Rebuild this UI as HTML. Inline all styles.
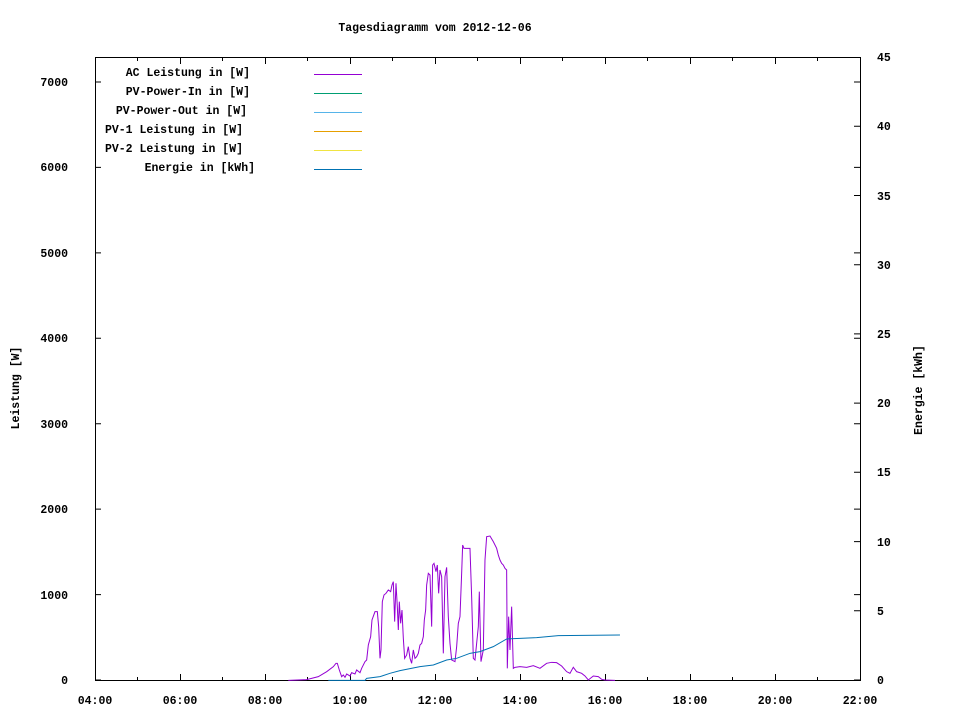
<!DOCTYPE html>
<html><head><meta charset="utf-8"><style>
html,body{margin:0;padding:0;background:#fff;}
svg text{font-family:"Liberation Mono","DejaVu Sans Mono",monospace;font-size:11.5px;font-weight:bold;fill:#000;}
</style></head><body>
<svg width="960" height="720" xmlns="http://www.w3.org/2000/svg">
<rect width="960" height="720" fill="#fff"/>
<text x="435" y="31" text-anchor="middle">Tagesdiagramm vom 2012-12-06</text>
<g stroke="#000" stroke-width="1" fill="none">
<rect x="95.5" y="57.5" width="765" height="623"/>
<path d="M95 680h6M95 594.6h6M95 509.1h6M95 423.7h6M95 338.3h6M95 252.9h6M95 167.4h6M95 82h6
M860 680h-6M860 594.6h-6M860 509.1h-6M860 423.7h-6M860 338.3h-6M860 252.9h-6M860 167.4h-6M860 82h-6
M860 610.8h-6M860 541.6h-6M860 472.3h-6M860 403.1h-6M860 333.9h-6M860 264.7h-6M860 195.5h-6M860 126.2h-6"/>
<path d="M180.5 680v-6M265.5 680v-6M350.5 680v-6M435.5 680v-6M520.5 680v-6M605.5 680v-6M690.5 680v-6M775.5 680v-6
M137.5 680v-3M222.5 680v-3M307.5 680v-3M392.5 680v-3M477.5 680v-3M562.5 680v-3M647.5 680v-3M732.5 680v-3M817.5 680v-3
M180.5 58v6M265.5 58v6M350.5 58v6M435.5 58v6M520.5 58v6M605.5 58v6M690.5 58v6M775.5 58v6
M137.5 58v3M222.5 58v3M307.5 58v3M392.5 58v3M477.5 58v3M562.5 58v3M647.5 58v3M732.5 58v3M817.5 58v3"/>
</g>
<g text-anchor="end">
<text x="68" y="684">0</text><text x="68" y="599">1000</text><text x="68" y="513">2000</text><text x="68" y="428">3000</text>
<text x="68" y="342">4000</text><text x="68" y="257">5000</text><text x="68" y="171">6000</text><text x="68" y="86">7000</text>
</g>
<g>
<text x="877" y="684">0</text><text x="877" y="615">5</text><text x="877" y="546">10</text><text x="877" y="476">15</text>
<text x="877" y="407">20</text><text x="877" y="338">25</text><text x="877" y="269">30</text><text x="877" y="200">35</text>
<text x="877" y="130">40</text><text x="877" y="61">45</text>
</g>
<g text-anchor="middle">
<text x="95" y="704">04:00</text><text x="180" y="704">06:00</text><text x="265" y="704">08:00</text><text x="350" y="704">10:00</text>
<text x="435" y="704">12:00</text><text x="520" y="704">14:00</text><text x="605" y="704">16:00</text><text x="690" y="704">18:00</text>
<text x="775" y="704">20:00</text><text x="860" y="704">22:00</text>
</g>
<text transform="translate(19,388) rotate(-90)" text-anchor="middle">Leistung [W]</text>
<text transform="translate(922,390) rotate(-90)" text-anchor="middle">Energie [kWh]</text>
<g text-anchor="end">
<text x="250" y="76">AC Leistung in [W]</text>
<text x="250" y="95">PV-Power-In in [W]</text>
<text x="247" y="114">PV-Power-Out in [W]</text>
<text x="243" y="133">PV-1 Leistung in [W]</text>
<text x="243" y="152">PV-2 Leistung in [W]</text>
<text x="255" y="171">Energie in [kWh]</text>
</g>
<g stroke-width="1">
<path d="M314 74.5h48" stroke="#9400d3"/>
<path d="M314 93.5h48" stroke="#009e73"/>
<path d="M314 112.5h48" stroke="#56b4e9"/>
<path d="M314 131.5h48" stroke="#e69f00"/>
<path d="M314 150.5h48" stroke="#f0e442"/>
<path d="M314 169.5h48" stroke="#0072b2"/>
</g>
<g transform="translate(280,530) scale(0.3333)" fill="none" stroke-width="1" vector-effect="non-scaling-stroke">
<polyline vector-effect="non-scaling-stroke" stroke="#9400d3" points="25,451 80,449 115,440 140,425 160,410 168,400 172,400 178,420 185,440 190,435 195,442 200,432 210,438 215,428 225,432 230,420 240,428 245,415 255,395 260,390 265,345 272,320 276,270 285,245 292,245 296,290 300,385 303,360 307,215 312,195 318,190 325,180 332,185 336,165 340,155 344,275 348,160 352,230 355,300 358,215 362,280 366,240 370,325 374,385 380,375 385,350 390,385 395,400 400,360 405,385 410,380 415,370 420,345 425,340 430,320 433,270 437,240 440,165 445,130 450,135 455,290 458,105 462,100 468,125 472,105 476,190 480,120 485,140 490,370 495,140 500,112 505,260 510,340 515,390 525,395 530,350 535,280 540,260 545,130 548,45 552,55 570,55 575,200 580,385 585,390 590,340 595,290 598,185 603,395 610,360 615,90 620,20 630,18 640,35 650,55 655,75 660,90 665,100 670,105 675,115 680,120 682,415 686,260 690,360 695,230 700,415 705,412 720,410 740,412 760,407 780,415 800,400 815,397 830,398 845,408 860,425 870,430 880,412 890,425 905,430 915,438 925,450 940,438 955,440 965,448 975,450 1005,451"/>
<polyline vector-effect="non-scaling-stroke" stroke="#0072b2" points="145,451 255,451 260,445 300,440 330,430 360,422 420,410 460,405 500,390 530,385 570,370 600,365 640,350 680,327 720,325 770,323 835,317 1020,315"/>
</g>
</svg>
</body></html>
